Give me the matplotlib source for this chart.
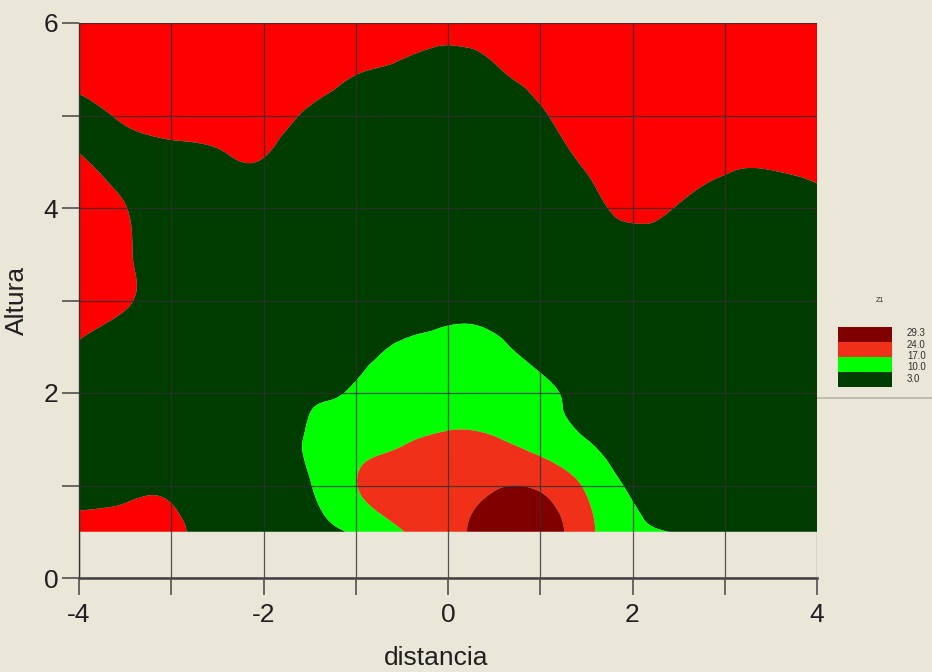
import numpy as np
import matplotlib
matplotlib.use("Agg")
import matplotlib.pyplot as plt
import matplotlib.tri as mtri
from matplotlib.lines import Line2D

plt.rcParams['font.family'] = ['Liberation Sans', 'DejaVu Sans']

dist = [-4, -3.5, -3, -2.5, -2, -1.5, -1, -0.5, 0, 0.5, 1, 1.5, 2, 2.5, 3, 3.5, 4]
alt = [0.5, 1.0, 1.5, 2.0, 2.5, 3.0, 3.5, 4.0, 4.5, 5.0, 5.5, 6.0]
# one list per distancia column, bottom to top
z_cols = [
    [2.0, 4.1, 5.0, 5.0, 3.3, 1.5, 1.0, 1.0, 2.5, 4.0, 1.5, 1.0],
    [1.5, 3.8, 5.0, 6.0, 5.0, 2.6, 2.6, 2.9, 4.2, 2.5, 1.2, 1.0],
    [2.0, 3.7, 6.0, 7.0, 6.0, 5.0, 5.0, 5.0, 4.5, 1.3, 1.0, 0.8],
    [5.3, 6.0, 7.0, 7.5, 7.0, 6.0, 6.0, 5.5, 3.8, 1.3, 1.0, 0.8],
    [6.0, 7.0, 7.5, 8.0, 7.5, 7.0, 6.5, 5.5, 3.2, 1.5, 1.0, 0.8],
    [8.0, 9.7, 10.6, 9.5, 8.5, 8.0, 7.5, 7.0, 6.0, 3.5, 1.2, 0.8],
    [11.0, 16.8, 14.0, 10.6, 8.5, 8.0, 7.5, 7.0, 6.5, 5.0, 2.7, 1.0],
    [16.8, 19.5, 16.4, 14.0, 10.6, 7.5, 7.0, 7.0, 7.0, 6.0, 3.6, 1.5],
    [21.5, 21.0, 18.0, 13.0, 11.5, 8.4, 7.5, 7.0, 7.5, 7.0, 5.0, 0.7],
    [27.5, 23.3, 17.4, 13.0, 11.0, 8.0, 7.5, 7.5, 7.5, 6.5, 3.4, 0.8],
    [28.0, 23.0, 14.0, 11.5, 7.8, 7.0, 6.5, 6.5, 5.5, 3.5, 1.5, 0.8],
    [19.0, 16.0, 10.0, 8.0, 6.5, 6.0, 5.5, 4.5, 2.5, 1.5, 1.0, 0.8],
    [11.5, 9.0, 7.0, 6.5, 6.0, 5.5, 5.0, 2.0, 1.2, 1.0, 0.8, 0.8],
    [9.8, 7.0, 6.5, 6.0, 5.5, 5.5, 5.0, 3.2, 1.5, 1.0, 0.8, 0.8],
    [8.0, 7.0, 6.5, 6.0, 6.0, 5.5, 5.0, 4.0, 2.6, 1.2, 1.0, 0.8],
    [7.5, 7.0, 6.5, 6.0, 6.0, 5.5, 5.0, 4.2, 2.7, 1.2, 1.0, 0.8],
    [7.0, 6.5, 6.5, 6.0, 5.5, 5.0, 4.8, 3.8, 2.3, 1.2, 1.0, 0.8],
]

levels = [3.0, 10.0, 17.0, 24.0, 29.3]
band_colors = ['#ff0000', '#003c00', '#00ff00', '#f03018', '#800000']
bg = '#eae6d8'

X, Y = np.meshgrid(dist, alt)
Z = np.array(z_cols).T

tri = mtri.Triangulation(X.ravel(), Y.ravel())
refiner = mtri.UniformTriRefiner(tri)
tri_f, z_f = refiner.refine_field(Z.ravel(), subdiv=3)

fig = plt.figure(figsize=(9.32, 6.72), dpi=100, facecolor=bg)
ax = fig.add_axes([79 / 932, 94 / 672, 738 / 932, 555 / 672])
ax.set_facecolor(bg)

ax.tricontourf(tri_f, z_f, levels=[-100] + levels[:4] + [100],
               colors=band_colors, antialiased=True)

ax.set_xlim(-4, 4)
ax.set_ylim(0, 6)
ax.set_xticks(np.arange(-4, 5, 1))
ax.set_yticks(np.arange(0, 7, 1))
ax.set_xticklabels([str(v) if v % 2 == 0 else '' for v in range(-4, 5)])
ax.set_yticklabels([str(v) if v % 2 == 0 else '' for v in range(0, 7)])
ax.tick_params(axis='both', direction='out', length=12, width=1.2,
               color='#505050', labelsize=19, labelcolor='#202020')
ax.tick_params(axis='x', pad=6)
ax.tick_params(axis='y', pad=3)
ax.set_axisbelow(False)
ax.grid(True, color='#303030', linewidth=0.9, alpha=0.8)
for s in ['top', 'right']:
    ax.spines[s].set_visible(False)
ax.spines['bottom'].set_color('#404040')
ax.spines['bottom'].set_linewidth(1.8)
ax.spines['left'].set_color('#404040')
ax.spines['left'].set_linewidth(1.0)

fig.text(436 / 932, 1 - 658 / 672, 'distancia', fontsize=19, color='#202020',
         ha='center', va='center')
fig.text(17 / 932, 1 - 300 / 672, 'Altura', fontsize=19, color='#202020',
         ha='center', va='center', rotation=90)

# legend panel
lax = fig.add_axes([838 / 932, 1 - 387 / 672, 54 / 932, 60 / 672])
lax.bar([0] * 4, [1] * 4, bottom=range(4), width=1, color=band_colors[1:],
        align='edge')
lax.set_xlim(0, 1)
lax.set_ylim(0, 4)
lax.axis('off')
fig.text(880 / 932, 1 - 300 / 672, 'Z1', fontsize=5, color='#303030',
         ha='center', va='center')
for i, v in enumerate(levels[::-1]):
    fig.text(907 / 932, 1 - (333 + i * 11.5) / 672, f'{v:.1f}', fontsize=7,
             color='#303030', ha='left', va='center')
fig.add_artist(Line2D([818 / 932, 1], [1 - 398 / 672] * 2, color='#b8b4a8',
                      linewidth=1.2))

fig.savefig('out.png', dpi=100, facecolor=bg)
